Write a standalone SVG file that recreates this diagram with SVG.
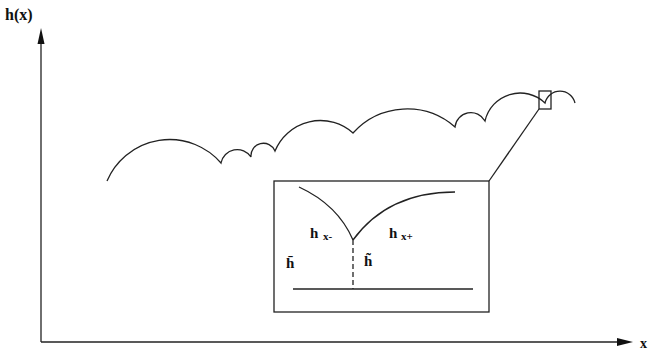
<svg xmlns="http://www.w3.org/2000/svg" width="650" height="353" viewBox="0 0 650 353">
<style>
.ln{fill:none;stroke:#222;stroke-width:1.3}
.t{font-family:"Liberation Serif",serif;font-weight:bold;fill:#111}
.h{font-size:15px}
.s{font-size:11px}
</style>
<rect width="650" height="353" fill="#fff"/>
<g id="axes">
<line class="ln" x1="41" y1="342" x2="41" y2="42"/>
<polygon points="41,28 37.5,44 44.5,44" fill="#111"/>
<line class="ln" x1="41" y1="342" x2="618" y2="342"/>
<polygon points="633,342 617,338 617,346" fill="#111"/>
<text class="t" x="5" y="20" font-size="16">h(x)</text>
<text class="t" x="640" y="348" font-size="14">x</text>
</g>
<g id="curve">
<path class="ln" d="M107,181 A68,68 0 0 1 221,163 A16.5,16.5 0 0 1 251,157 A12.5,12.5 0 0 1 275,151 A49,49 0 0 1 353,133 A72.8,72.8 0 0 1 455,127 A16,16 0 0 1 485,121 A36,36 0 0 1 545,103 A15.4,15.4 0 0 1 575,103"/>
</g>
<g id="zoom-box">
<rect class="ln" x="539" y="91" width="12" height="18"/>
<line class="ln" x1="539" y1="109" x2="489" y2="181"/>
</g>
<g id="inset">
<rect class="ln" x="274" y="181" width="215" height="131"/>
<path class="ln" d="M299,187 Q338,205 353,240"/>
<path class="ln" d="M353,240 Q388,192 455,192"/>
<line class="ln" x1="353" y1="240" x2="353" y2="289" stroke-dasharray="5,3"/>
<line class="ln" x1="293" y1="289" x2="473" y2="289"/>
<text class="t h" x="310" y="238">h</text>
<text class="t s" x="323" y="240">x-</text>
<text class="t h" x="389" y="238">h</text>
<text class="t s" x="401" y="240">x+</text>
<text class="t h" x="286" y="268">h̄</text>
<text class="t h" x="364" y="266">h̃</text>
</g>
</svg>
